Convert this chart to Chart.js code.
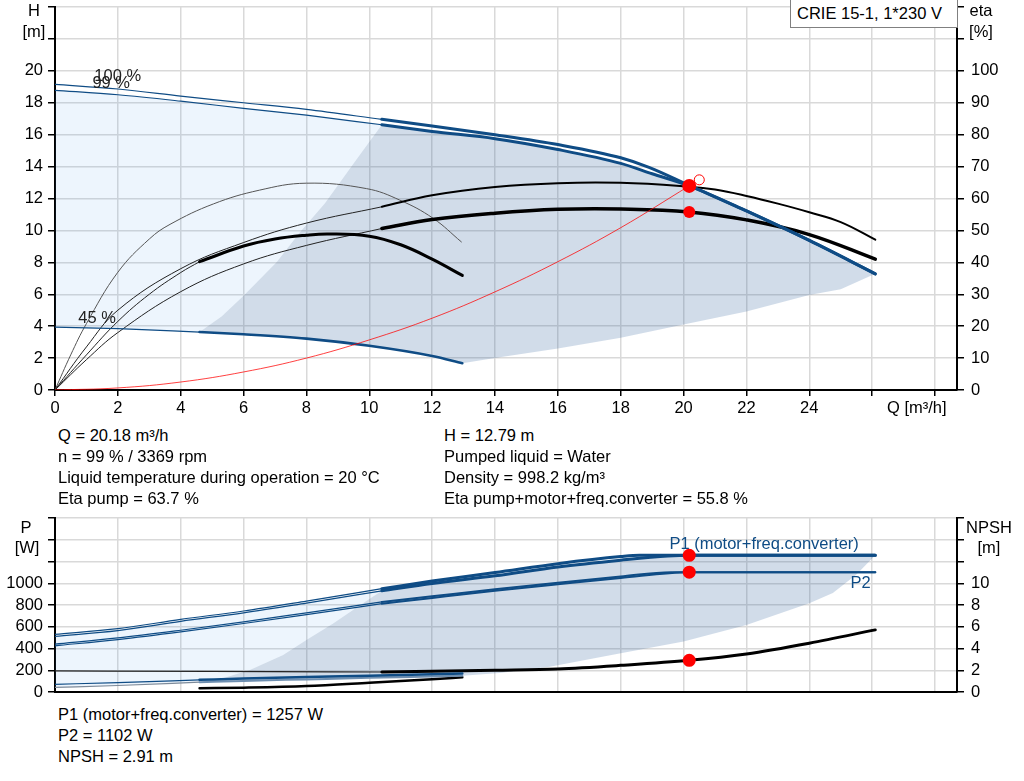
<!DOCTYPE html>
<html>
<head>
<meta charset="utf-8">
<script src="https://cdn.jsdelivr.net/npm/chart.js@4.4.1/dist/chart.umd.min.js"></script>
<style>
  html, body { margin: 0; padding: 0; background: #fff; }
  body { width: 1024px; height: 781px; overflow: hidden; position: relative;
         font-family: "Liberation Sans", Arial, sans-serif; color: #000; }
  canvas { position: absolute; left: 0; }
  #c1 { top: 0; }
  #c2 { top: 500px; }
  .t { position: absolute; font-size: 16.5px; line-height: 20px; white-space: nowrap; }
  .c { position: absolute; font-size: 16.5px; line-height: 20px; white-space: nowrap; width: 80px; text-align: center; }
  #title { position: absolute; left: 790px; top: 0; width: 168px; height: 28px; box-sizing: border-box;
           border: 1px solid #808080; border-top: none; background: #fff; font-size: 16.5px;
           line-height: 27px; padding-left: 6px; white-space: nowrap; }
</style>
</head>
<body>
<canvas id="c1" width="1024" height="422"></canvas>
<canvas id="c2" width="1024" height="200"></canvas>

<div id="title">CRIE 15-1, 1*230 V</div>

<div class="c" style="left:-6px;top:0px">H</div>
<div class="c" style="left:-6px;top:21px">[m]</div>
<div class="c" style="left:941px;top:0px">eta</div>
<div class="c" style="left:941px;top:21px">[%]</div>
<div class="t" style="left:887px;top:397px">Q [m³/h]</div>

<div class="t" style="left:58px;top:425px">Q = 20.18 m³/h</div>
<div class="t" style="left:58px;top:446px">n = 99 % / 3369 rpm</div>
<div class="t" style="left:58px;top:467px">Liquid temperature during operation = 20 °C</div>
<div class="t" style="left:58px;top:488px">Eta pump = 63.7 %</div>
<div class="t" style="left:444px;top:425px">H = 12.79 m</div>
<div class="t" style="left:444px;top:446px">Pumped liquid = Water</div>
<div class="t" style="left:444px;top:467px">Density = 998.2 kg/m³</div>
<div class="t" style="left:444px;top:488px">Eta pump+motor+freq.converter = 55.8 %</div>

<div class="c" style="left:-14px;top:517px">P</div>
<div class="c" style="left:-13px;top:537px">[W]</div>
<div class="c" style="left:949px;top:517px">NPSH</div>
<div class="c" style="left:949px;top:537px">[m]</div>

<div class="t" style="left:58px;top:704px">P1 (motor+freq.converter) = 1257 W</div>
<div class="t" style="left:58px;top:725px">P2 = 1102 W</div>
<div class="t" style="left:58px;top:746px">NPSH = 2.91 m</div>

<script>
// ---------------- DATA ----------------
// Top chart: head curves H [m] vs Q [m3/h]
const Q_HT    = [0, 2, 4, 6, 8, 10.4];
const H100_T  = [19.15, 18.86, 18.42, 18.0, 17.58, 16.96];
const H99_T   = [18.78, 18.5, 18.1, 17.65, 17.22, 16.62];
const Q_H100K = [10.4, 12, 14, 16, 18, 18.9, 20.18, 22, 24, 26.1];
const H100_K  = [16.96, 16.55, 16.0, 15.38, 14.55, 13.95, 12.82, 11.22, 9.37, 7.28];
const Q_H99K  = [10.4, 12, 14, 16, 18, 19, 20.18, 22, 24, 26.1];
const H99_K   = [16.62, 16.2, 15.75, 15.07, 14.2, 13.55, 12.79, 11.22, 9.37, 7.28];
const Q_H45T  = [0, 2, 4.6];
const H45_T   = [3.94, 3.84, 3.63];
const Q_H45K  = [4.6, 6, 8, 10, 12, 12.96];
const H45_K   = [3.63, 3.49, 3.22, 2.77, 2.13, 1.68];

// Efficiency curves eta [%]
const Q_EP99T = [0, 1, 2, 4, 6, 8, 10.4];
const EP99_T  = [0, 13.5, 25, 38, 46.2, 52.3, 57.4];
const Q_EP99K = [10.4, 12, 14, 16, 18, 20.18, 21, 22, 23, 24, 25, 26.1];
const EP99_K  = [57.4, 61, 63.6, 64.8, 64.9, 63.7, 62.8, 60.8, 58.4, 55.7, 52.6, 47.1];
const Q_EP45  = [0, 0.5, 1, 2, 3, 3.66, 5.04, 6.5, 8, 9.91, 10.97, 12.03, 12.93];
const EP45    = [0, 11.0, 20.8, 36.9, 47.3, 51.9, 58.3, 62.6, 64.8, 63.1, 59.5, 53.8, 46.4];
const Q_ET99T = [0, 1, 2, 4, 6, 8, 10.4];
const ET99_T  = [0, 9.5, 18, 30.8, 39.5, 45.3, 50.6];
const Q_ET99K = [10.4, 12, 14, 16, 18, 20.18, 22, 24, 26.1];
const ET99_K  = [50.6, 53.4, 55.4, 56.6, 56.7, 55.8, 53.3, 48.7, 41.0];
const Q_ET45T = [0, 1, 2, 3, 4, 4.6];
const ET45_T  = [0, 11, 21.5, 30, 36.8, 40.2];
const Q_ET45K = [4.6, 6, 7, 8, 8.7, 10, 11, 12, 12.96];
const ET45_K  = [40.2, 45.1, 47.3, 48.5, 48.9, 48.2, 45.5, 41.0, 35.9];

// System curve
const Q_SYS = [0, 2, 4, 6, 8, 10, 12, 14, 16, 18, 20.18];
const H_SYS = [0, 0.13, 0.5, 1.13, 2.0, 3.14, 4.5, 6.15, 8.04, 10.17, 12.79];

// Operating-range boundaries (top)
const Q_LB  = [4.6, 5.3, 6.0, 7.05, 7.8, 8.59, 9.5, 10.4];
const H_LB  = [3.63, 4.6, 5.9, 8.0, 9.9, 11.7, 14.2, 16.62];
const Q_LOW = [26.1, 25, 24, 22, 20, 18, 16, 14.15, 12.96];
const H_LOW = [7.28, 6.32, 5.95, 4.92, 4.1, 3.28, 2.6, 2.05, 1.68];

// Duty point
const WP_Q = [20.18];
const WP_H = [12.79];
const WP_ETA = [55.8];
const OC_Q = [20.5];
const OC_H = [13.17];

// Bottom chart: power P [W] and NPSH [m]
const Q_PT    = [0, 2, 4, 6, 8, 10.4];
const P1_100T = [530, 582, 668, 745, 836, 950];
const P1_99T  = [512, 565, 650, 728, 818, 930];
const P2_100T = [440, 497, 568, 645, 728, 828];
const P2_99T  = [425, 482, 552, 630, 712, 812];
const Q_P1_100K = [10.4, 12, 14, 16, 18, 18.6, 26.1];
const P1_100K   = [950, 1020, 1098, 1180, 1245, 1257, 1257];
const Q_P1_99K  = [10.4, 12, 14, 16, 18, 19.5, 20.18, 26.1];
const P1_99K    = [930, 998, 1068, 1150, 1212, 1250, 1257, 1257];
const Q_P2_100K = [10.4, 12, 14, 16, 18, 19.6, 26.1];
const P2_100K   = [828, 880, 945, 1005, 1062, 1102, 1102];
const Q_P2_99K  = [10.4, 12, 14, 16, 18, 20.18, 26.1];
const P2_99K    = [812, 865, 930, 990, 1048, 1102, 1102];
const Q_P45T  = [0, 2, 4.6];
const P1_45T  = [71, 86, 112];
const P2_45T  = [42, 60, 90];
const Q_P45K  = [4.6, 6, 8, 10, 12, 12.96];
const P1_45K  = [112, 124, 138, 150, 163, 170];
const P2_45K  = [90, 102, 116, 130, 143, 150];
const Q_NT    = [0, 5, 10.4];
const N99_T   = [1.94, 1.9, 1.84];
const Q_NK    = [10.4, 12, 14, 16, 18, 20.18, 22, 24, 26.1];
const N99_K   = [1.84, 1.9, 2.0, 2.12, 2.45, 2.91, 3.5, 4.49, 5.71];
const Q_N45   = [4.6, 6, 8, 10, 12, 12.96];
const N45_K   = [0.34, 0.4, 0.55, 0.85, 1.17, 1.35];
const Q_PLB   = [4.6, 5.4, 6.2, 7.26, 8.0, 8.85, 9.8, 10.4];
const P_LB    = [90, 130, 203, 341, 479, 630, 817, 930];
const Q_PLOW  = [26.1, 25.5, 24.75, 24, 22, 20, 18, 15.74, 14.15, 12.96];
const P_LOW   = [1257, 1080, 910, 817, 617, 464, 356, 233, 175, 150];
const WP_P  = [1257, 1102];
const WP_N  = [2.91];

// Tick label limits
const X_TICK_MAX_LABEL = 24;
const H_TICK_MAX_LABEL = 20;
const ETA_TICK_MAX_LABEL = 100;
const P_TICK_MAX_LABEL = 1000;
const N_TICK_MAX_LABEL = 10;

// ---------------- helpers ----------------
Chart.defaults.font.family = '"Liberation Sans", Arial, sans-serif';
Chart.defaults.font.size = 16.5;
Chart.defaults.color = '#000';

const BLUE = '#0f4c85';
const GRID = '#d9d9d9';
const RED = '#ff0000';
const rev = a => a.slice().reverse();
function pts(xs, ys) { return xs.map((x, i) => ({ x: x, y: ys[i] })); }
function curve(xs, ys, axis, color, width, smooth) {
  const d = { type: 'line', data: pts(xs, ys), yAxisID: axis, borderColor: color, borderWidth: width,
    pointRadius: 0, pointHoverRadius: 0, fill: false,
    borderCapStyle: 'round', borderJoinStyle: 'round' };
  if (smooth) { d.tension = 0.4; d.cubicInterpolationMode = 'default'; }
  else { d.cubicInterpolationMode = 'monotone'; }
  return d;
}
function area(points, axis, color) {
  return { type: 'line', data: points, yAxisID: axis, borderWidth: 0, borderColor: 'rgba(0,0,0,0)',
    backgroundColor: color, fill: 'shape', pointRadius: 0, pointHoverRadius: 0, tension: 0 };
}
function dots(xs, ys, axis, r) {
  return { type: 'line', data: pts(xs, ys), yAxisID: axis, showLine: false, pointRadius: r,
    pointHoverRadius: r, pointBackgroundColor: RED, pointBorderColor: RED, pointBorderWidth: 0 };
}

const curveLabels = {
  id: 'curveLabels',
  afterDatasetsDraw(chart, args, opts) {
    const ctx = chart.ctx;
    ctx.save();
    ctx.font = '16.5px "Liberation Sans", Arial, sans-serif';
    ctx.textBaseline = 'middle';
    for (const l of opts.items || []) {
      const x = chart.scales.x.getPixelForValue(l.q);
      const y = chart.scales[l.axis].getPixelForValue(l.v);
      ctx.fillStyle = l.color;
      ctx.textAlign = l.align || 'left';
      ctx.fillText(l.text, x, y);
    }
    ctx.restore();
  }
};

function xScale(h, show) {
  return { type: 'linear', min: 0, max: 28.7,
    afterFit: s => { s.height = h; s.paddingLeft = 0; s.paddingRight = 0; },
    ticks: { display: show, stepSize: 2, includeBounds: false, autoSkip: false, maxRotation: 0, padding: 3,
             callback: v => (v <= X_TICK_MAX_LABEL ? String(v) : '') },
    grid: { color: GRID, lineWidth: 1.5, drawTicks: show, tickLength: 6, tickColor: '#000', tickWidth: 1.5 },
    border: { color: '#000', width: 2 } };
}
function yScale(pos, max, step, maxLabel, width, pad, grid) {
  return { type: 'linear', position: pos, min: 0, max: max,
    afterFit: s => { s.width = width; s.paddingTop = 0; s.paddingBottom = 0; },
    ticks: { stepSize: step, includeBounds: false, autoSkip: false, padding: pad,
             callback: v => (v <= maxLabel ? String(v) : '') },
    grid: { color: GRID, lineWidth: 1.5, drawOnChartArea: grid, tickLength: 7, tickColor: '#000', tickWidth: 1.5 },
    border: { color: '#000', width: 2 } };
}

// ---------------- top chart ----------------
const darkTop = [...pts(Q_LB, H_LB), ...pts(Q_H99K, H99_K).slice(1), ...pts(Q_LOW, H_LOW).slice(1),
                 ...pts(rev(Q_H45K), rev(H45_K)).slice(1)];
const lightTop = [...pts(Q_HT, H99_T), ...pts(rev(Q_LB), rev(H_LB)).slice(1),
                  ...pts(rev(Q_H45T), rev(H45_T)).slice(1)];

new Chart(document.getElementById('c1'), {
  type: 'line',
  data: { datasets: [
    dots(WP_Q, WP_H, 'yH', 7),
    dots(WP_Q, WP_ETA, 'yE', 6),
    { type: 'line', data: pts(OC_Q, OC_H), yAxisID: 'yH', showLine: false, pointRadius: 5, pointHoverRadius: 5,
      pointBackgroundColor: 'rgba(0,0,0,0)', pointBorderColor: RED, pointBorderWidth: 1 },
    curve(Q_SYS, H_SYS, 'yH', 'rgba(255,0,0,0.75)', 1, true),
    curve(Q_H99K, H99_K, 'yH', BLUE, 3),
    curve(Q_H100K, H100_K, 'yH', BLUE, 3),
    curve(Q_HT, H99_T, 'yH', BLUE, 1.2),
    curve(Q_HT, H100_T, 'yH', BLUE, 1.2),
    curve(Q_H45K, H45_K, 'yH', BLUE, 2.6),
    curve(Q_H45T, H45_T, 'yH', BLUE, 1.2),
    curve(Q_ET99K, ET99_K, 'yE', '#000', 3.5, true),
    curve(Q_EP99K, EP99_K, 'yE', '#000', 2, true),
    curve(Q_ET45K, ET45_K, 'yE', '#000', 3, true),
    curve(Q_EP99T, EP99_T, 'yE', '#222', 1, true),
    curve(Q_ET99T, ET99_T, 'yE', '#222', 1, true),
    curve(Q_ET45T, ET45_T, 'yE', '#222', 1, true),
    curve(Q_EP45, EP45, 'yE', '#555', 1, true),
    area(darkTop, 'yH', 'rgba(40,90,150,0.21)'),
    area(lightTop, 'yH', 'rgba(80,160,240,0.1)')
  ] },
  options: {
    responsive: false, animation: false, events: [], devicePixelRatio: 1,
    layout: { padding: 0 },
    plugins: { legend: { display: false }, tooltip: { enabled: false },
      curveLabels: { items: [
        { text: '100 %', q: 1.25, v: 19.63, axis: 'yH', color: '#222' },
        { text: '99 %', q: 1.19, v: 19.24, axis: 'yH', color: '#222' },
        { text: '45 %', q: 0.74, v: 4.51, axis: 'yH', color: '#222' }
      ] } },
    scales: {
      x: xScale(32, true),
      yH: yScale('left', 24, 2, H_TICK_MAX_LABEL, 55, 5, true),
      yE: yScale('right', 120, 10, ETA_TICK_MAX_LABEL, 67, 7, false)
    }
  },
  plugins: [curveLabels]
});

// ---------------- bottom chart ----------------
const darkLow = [...pts(Q_PLB, P_LB), ...pts(Q_P1_99K, P1_99K).slice(1), ...pts(Q_PLOW, P_LOW).slice(1),
                 ...pts(rev(Q_P45K), rev(P2_45K)).slice(1)];
const lightLow = [...pts(Q_PT, P1_99T), ...pts(rev(Q_PLB), rev(P_LB)).slice(1),
                  ...pts(rev(Q_P45T), rev(P2_45T)).slice(1)];

new Chart(document.getElementById('c2'), {
  type: 'line',
  data: { datasets: [
    dots([WP_Q[0], WP_Q[0]], WP_P, 'yP', 6.5),
    dots(WP_Q, WP_N, 'yN', 6.5),
    curve(Q_P1_99K, P1_99K, 'yP', BLUE, 3),
    curve(Q_P1_100K, P1_100K, 'yP', BLUE, 3),
    curve(Q_P2_99K, P2_99K, 'yP', BLUE, 2),
    curve(Q_P2_100K, P2_100K, 'yP', BLUE, 2),
    curve(Q_PT, P1_100T, 'yP', BLUE, 1.2),
    curve(Q_PT, P1_99T, 'yP', BLUE, 1.2),
    curve(Q_PT, P2_100T, 'yP', BLUE, 1.2),
    curve(Q_PT, P2_99T, 'yP', BLUE, 1.2),
    curve(Q_P45K, P1_45K, 'yP', BLUE, 2.5),
    curve(Q_P45K, P2_45K, 'yP', '#6f8fb0', 2),
    curve(Q_P45T, P1_45T, 'yP', BLUE, 1.2),
    curve(Q_P45T, P2_45T, 'yP', '#7d8a99', 1.2),
    curve(Q_NK, N99_K, 'yN', '#000', 3),
    curve(Q_NT, N99_T, 'yN', '#222', 1.2),
    curve(Q_N45, N45_K, 'yN', '#000', 2.5),
    area(darkLow, 'yP', 'rgba(40,90,150,0.21)'),
    area(lightLow, 'yP', 'rgba(80,160,240,0.1)')
  ] },
  options: {
    responsive: false, animation: false, events: [], devicePixelRatio: 1,
    layout: { padding: { top: 18, bottom: 8, left: 0, right: 0 } },
    plugins: { legend: { display: false }, tooltip: { enabled: false },
      curveLabels: { items: [
        { text: 'P1 (motor+freq.converter)', q: 19.55, v: 1359, axis: 'yP', color: BLUE },
        { text: 'P2', q: 25.95, v: 994, axis: 'yP', color: BLUE, align: 'right' }
      ] } },
    scales: {
      x: xScale(0, false),
      yP: yScale('left', 1600, 200, P_TICK_MAX_LABEL, 55, 5, true),
      yN: yScale('right', 16, 2, N_TICK_MAX_LABEL, 67, 7, false)
    }
  },
  plugins: [curveLabels]
});
</script>
</body>
</html>
